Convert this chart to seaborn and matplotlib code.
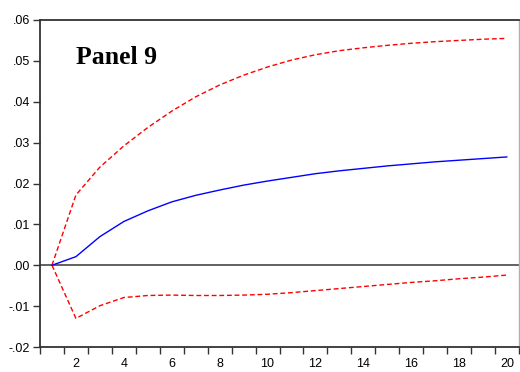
import numpy as np
import pandas as pd
import matplotlib
matplotlib.use("Agg")
import matplotlib.pyplot as plt
import seaborn as sns

# ---- data ----
periods = list(range(1, 21))
response = [0.0, 0.0021, 0.0070, 0.0107, 0.0133, 0.0155, 0.0171, 0.0184, 0.0196, 0.0206,
            0.0215, 0.0224, 0.0231, 0.0237, 0.0243, 0.0248, 0.0253, 0.0257, 0.0261, 0.0265]
upper = [0.0, 0.0172, 0.0240, 0.0292, 0.0337, 0.0377, 0.0412, 0.0441, 0.0465, 0.0485,
         0.0502, 0.0515, 0.0525, 0.0532, 0.0538, 0.0543, 0.0547, 0.0550, 0.0553, 0.0555]
lower = [0.0, -0.0130, -0.0099, -0.0079, -0.0074, -0.0073, -0.0074, -0.0074, -0.0073, -0.0071,
         -0.0067, -0.0062, -0.0057, -0.0052, -0.0047, -0.0042, -0.0038, -0.0033, -0.0029, -0.0024]
y_ticks = [-0.02, -0.01, 0.0, 0.01, 0.02, 0.03, 0.04, 0.05, 0.06]
y_tick_labels = ["-.02", "-.01", ".00", ".01", ".02", ".03", ".04", ".05", ".06"]
x_ticks = [2, 4, 6, 8, 10, 12, 14, 16, 18, 20]
panel_title = "Panel 9"

df = pd.DataFrame({
    "period": periods * 3,
    "value": response + upper + lower,
    "series": ["response"] * 20 + ["upper"] * 20 + ["lower"] * 20,
})

sns.set_style("white")
plt.rcParams["font.family"] = ["Liberation Sans", "DejaVu Sans"]
plt.rcParams["text.color"] = "black"
plt.rcParams["xtick.color"] = "black"
plt.rcParams["ytick.color"] = "black"

fig = plt.figure(figsize=(5.2, 3.72), dpi=100)
ax = fig.add_axes([40 / 520, 1 - 347 / 372, 479 / 520, 327 / 372])

ax.axhline(0, color="#555555", lw=1.3, zorder=1)

sns.lineplot(data=df[df.series == "response"], x="period", y="value", ax=ax,
             color="#0000ff", lw=1.0, legend=False, zorder=3)
for name in ["upper", "lower"]:
    sns.lineplot(data=df[df.series == name], x="period", y="value", ax=ax,
                 color="#ff0000", lw=1.0, legend=False, zorder=2,
                 dashes=False, linestyle=(0, (3.5, 2)))

ax.set_xlim(0.5, 20.5)
ax.set_ylim(-0.02, 0.06)
ax.set_xlabel("")
ax.set_ylabel("")

ax.set_yticks(y_ticks)
ax.set_yticklabels(y_tick_labels, fontsize=9, color="black")
ax.set_xticks(x_ticks)
ax.set_xticklabels([str(t) for t in x_ticks], fontsize=9, color="black")
ax.set_xticks(np.arange(0.5, 21, 1.0), minor=True)
ax.tick_params(axis="x", which="major", length=0, pad=8)
ax.tick_params(axis="x", which="minor", length=5, width=1, color="#333333", direction="out", bottom=True)
ax.tick_params(axis="y", which="major", length=5, width=1, color="#333333", direction="out", left=True, pad=2)

for side in ["left", "top", "bottom"]:
    ax.spines[side].set_color("#333333")
    ax.spines[side].set_linewidth(1.3)
ax.spines["right"].set_color("#b0b0b0")
ax.spines["right"].set_linewidth(1.0)

ax.text(76 / 520, 1 - 58 / 372, panel_title, transform=fig.transFigure,
        fontsize=18.5, fontweight="bold", family=["Liberation Serif", "DejaVu Serif"],
        color="black", va="center", ha="left")

fig.savefig("out.png", dpi=100)
